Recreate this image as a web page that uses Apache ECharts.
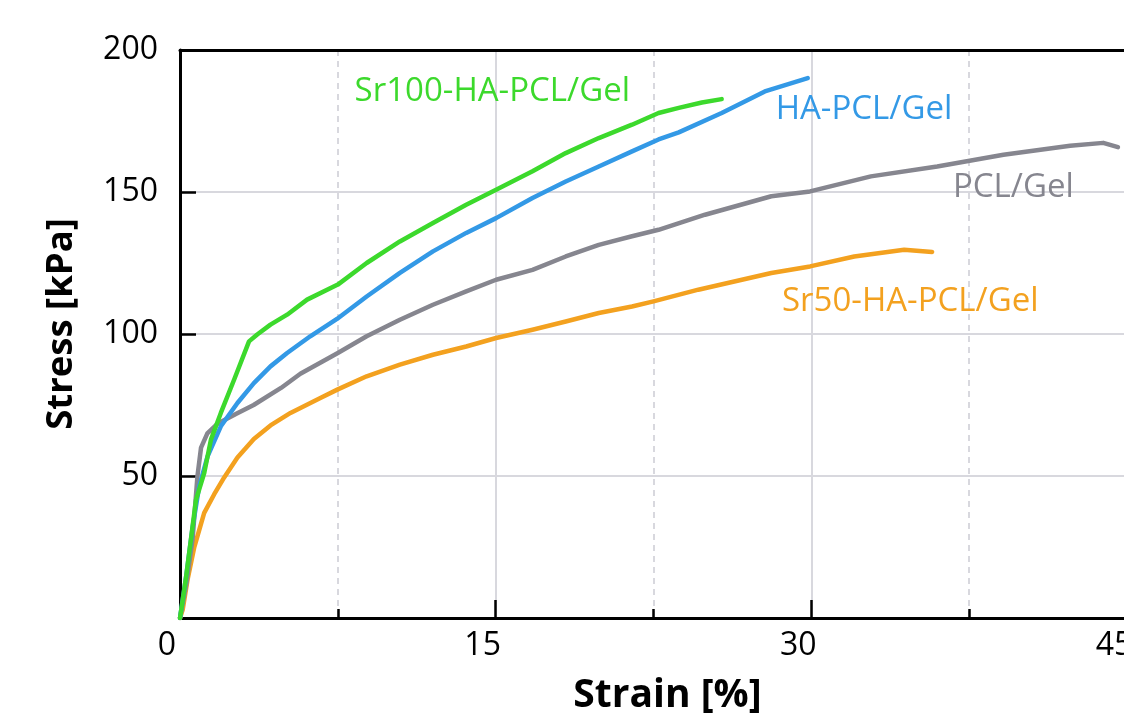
<!DOCTYPE html>
<html>
<head>
<meta charset="utf-8">
<script src="https://cdn.jsdelivr.net/npm/echarts@6/dist/echarts.min.js"></script>
<style>
	html, body { margin: 0; padding: 0; background: #fff; }
	#chart { width: 1124px; height: 722px; }
</style>
</head>
<body>
<div id="chart"></div>
<script>
// strain [%] / stress [kPa]
const sr100Strain = [0, 0.3, 0.76, 1.15, 1.47, 1.94, 2.57, 3.28, 3.67, 4.3, 5.09, 6.04, 7.5, 8.87, 10.45, 12.02, 13.6, 15.02, 16.75, 18.33, 19.9, 21.48, 22.74, 23.7, 24.8, 25.74];
const sr100Stress = [0, 15, 41.6, 51, 62.8, 72.2, 83.9, 97.4, 99.8, 103.3, 106.8, 112.1, 117.4, 125, 132.6, 139.1, 145.5, 150.8, 157.3, 163.7, 169, 173.7, 177.8, 179.6, 181.5, 182.7];

const haStrain = [0, 0.3, 0.6, 0.91, 1.31, 1.94, 2.73, 3.51, 4.3, 5.09, 6.19, 7.46, 8.87, 10.45, 12.02, 13.6, 15.02, 16.75, 18.33, 19.9, 21.48, 22.74, 23.7, 25.74, 27.79, 29.83];
const haStress = [0, 15, 32, 46.3, 56.9, 67.5, 75.7, 82.7, 88.6, 93.3, 99.2, 105.3, 113.2, 121.5, 129.1, 135.6, 140.8, 147.9, 153.7, 159, 164.3, 168.5, 171, 177.8, 185.4, 190.1];

const pclStrain = [0, 0.3, 0.6, 0.83, 1.0, 1.3, 1.8, 2.7, 3.5, 4.8, 5.72, 7.5, 8.87, 10.45, 12.02, 13.6, 15.02, 16.75, 18.33, 19.9, 21.48, 22.74, 24.95, 28.1, 29.94, 32.83, 35.98, 39.13, 42.3, 43.87, 44.57];
const pclStress = [0, 12, 28, 50, 60, 65, 68.5, 72, 75, 81, 86, 93.3, 99.2, 105, 110.3, 115, 119.1, 122.6, 127.3, 131.4, 134.4, 136.7, 142, 148.5, 150.2, 155.5, 159, 163.1, 166.3, 167.3, 165.8];

const sr50Strain = [0, 0.13, 0.36, 0.68, 1.15, 1.62, 2.1, 2.73, 3.51, 4.3, 5.25, 6.67, 7.5, 8.87, 10.45, 12.02, 13.6, 15.02, 16.75, 18.33, 19.9, 21.48, 22.5, 24.63, 28.1, 29.94, 32.04, 34.41, 35.74];
const sr50Stress = [0, 3, 13.5, 25, 37, 43.5, 49.5, 56.5, 63, 67.8, 72.2, 77.5, 80.5, 85.1, 89.2, 92.7, 95.6, 98.6, 101.5, 104.4, 107.4, 109.7, 111.5, 115.6, 121.5, 123.8, 127.3, 129.7, 128.9];

const seriesNames = ['Sr100-HA-PCL/Gel', 'HA-PCL/Gel', 'PCL/Gel', 'Sr50-HA-PCL/Gel'];
const seriesColors = ['#3cd92c', '#3399e6', '#86868f', '#f3a11f'];
// where each curve's name is written, in data units [strain, stress]
const labelAt = [[14.84, 185.2], [32.5, 178.9], [39.6, 151.4], [34.7, 111.3]];

const xTicks = [0, 15, 30, 45];
const yTicks = [0, 50, 100, 150, 200];

const FONT = '"Open Sans", sans-serif';

const pairs = (xs, ys) => xs.map((x, i) => [x, ys[i]]);
const curves = [
	pairs(sr100Strain, sr100Stress),
	pairs(haStrain, haStress),
	pairs(pclStrain, pclStress),
	pairs(sr50Strain, sr50Stress)
];

const chart = echarts.init(document.getElementById('chart'), null, { renderer: 'canvas' });

chart.setOption({
	animation: false,
	backgroundColor: '#fff',
	grid: { left: 180, top: 50, width: 947, height: 568, containLabel: false, outerBoundsMode: 'none' },
	xAxis: [{
		type: 'value',
		min: xTicks[0],
		max: xTicks[xTicks.length - 1],
		interval: 15,
		name: 'Strain [%]',
		nameLocation: 'middle',
		nameGap: 58,
		nameTextStyle: { fontFamily: FONT, fontWeight: 'bold', fontSize: 39, color: '#000', padding: [0, 0, 0, 28] },
		axisLine: { show: true, onZero: false, lineStyle: { color: '#000', width: 3 } },
		axisTick: { show: true, inside: true, length: 18, lineStyle: { color: '#000', width: 2.5 } },
		minorTick: { show: true, splitNumber: 2, length: 9, lineStyle: { color: '#000', width: 2.5 } },
		axisLabel: { fontFamily: FONT, fontSize: 32, color: '#000', margin: 12, padding: [0, 26, 0, 0] },
		splitLine: { show: true, showMinLine: false, showMaxLine: false, lineStyle: { color: '#d8d8de', width: 2 } },
		minorSplitLine: { show: true, lineStyle: { color: '#d8d8de', width: 2, type: [6, 5] } }
	}, {
		type: 'value',
		position: 'top',
		min: xTicks[0],
		max: xTicks[xTicks.length - 1],
		interval: 15,
		axisLine: { show: true, onZero: false, lineStyle: { color: '#000', width: 3 } },
		axisTick: { show: false },
		axisLabel: { show: false },
		splitLine: { show: false }
	}],
	yAxis: {
		type: 'value',
		min: yTicks[0],
		max: yTicks[yTicks.length - 1],
		interval: 50,
		name: 'Stress [kPa]',
		nameLocation: 'middle',
		nameGap: 100,
		nameRotate: 90,
		nameTextStyle: { fontFamily: FONT, fontWeight: 'bold', fontSize: 36.5, color: '#000', padding: [0, 0, 0, 20] },
		axisLine: { show: true, onZero: false, lineStyle: { color: '#000', width: 3 } },
		axisTick: { show: true, inside: true, length: 16, lineStyle: { color: '#000', width: 2.5 } },
		axisLabel: { fontFamily: FONT, fontSize: 32, color: '#000', margin: 22, showMinLabel: false },
		splitLine: { show: true, showMinLine: false, showMaxLine: false, lineStyle: { color: '#d8d8de', width: 2 } }
	},
	series: curves.map((data, i) => ({
		name: seriesNames[i],
		type: 'line',
		data: data,
		showSymbol: false,
		symbol: 'none',
		smooth: false,
		lineStyle: { color: seriesColors[i], width: 4.5, join: 'round', cap: 'round' },
		z: 10 - i,
		markPoint: {
			symbol: 'circle',
			symbolSize: 0,
			silent: true,
			data: [{
				coord: labelAt[i],
				label: {
					show: true,
					position: 'inside',
					formatter: seriesNames[i],
					fontFamily: FONT,
					fontSize: 33,
					color: seriesColors[i]
				}
			}]
		}
	}))
});
</script>
</body>
</html>
